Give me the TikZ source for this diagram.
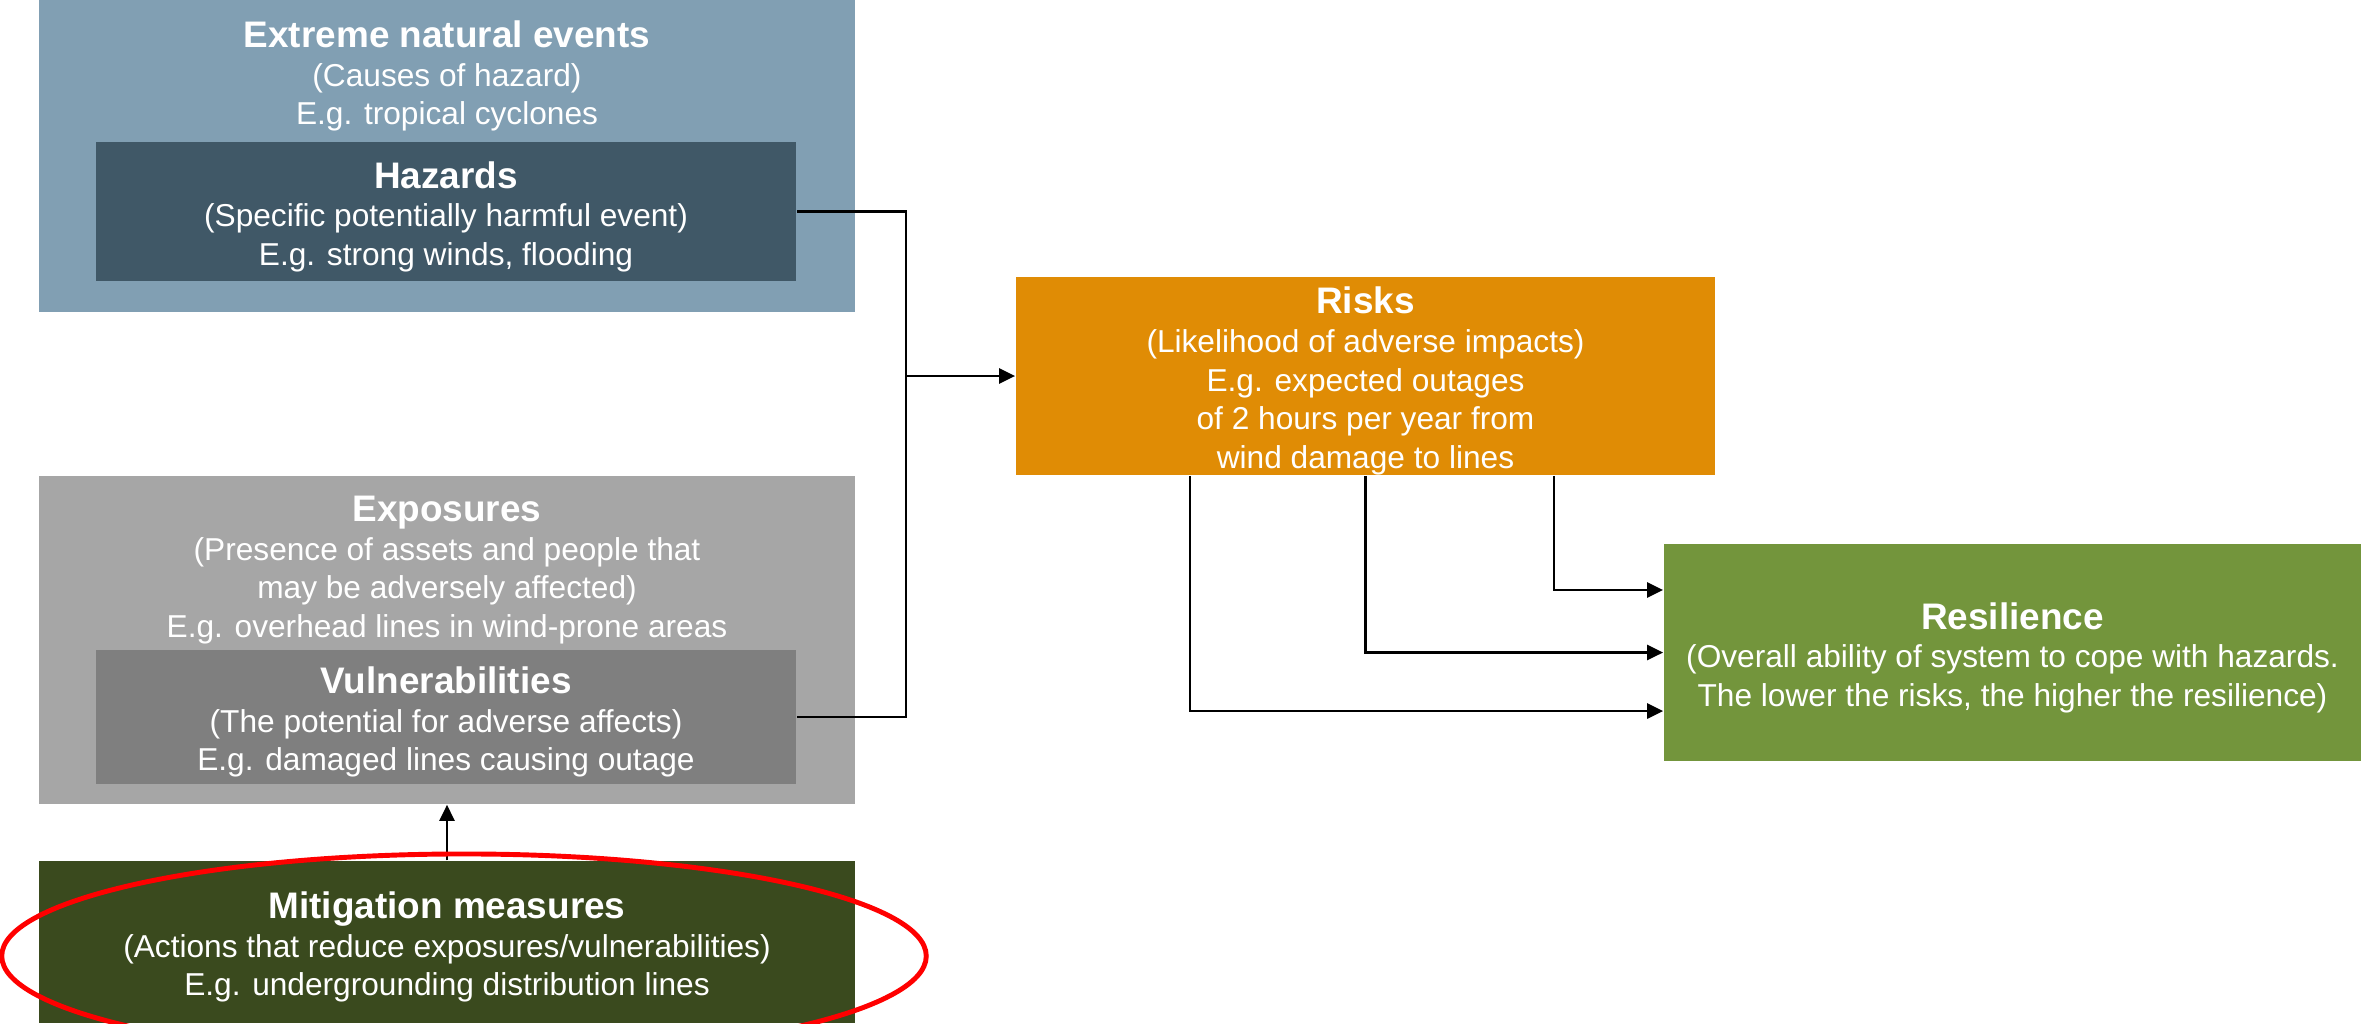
\documentclass[tikz,border=0pt]{standalone}
\usepackage{fontspec}
\setmainfont{Liberation Sans}
\usetikzlibrary{arrows.meta}
\definecolor{eventblue}{HTML}{819FB3}
\definecolor{hazardblue}{HTML}{405867}
\definecolor{exposegray}{HTML}{A6A6A6}
\definecolor{vulngray}{HTML}{7F7F7F}
\definecolor{mitigreen}{HTML}{3A4A1E}
\definecolor{riskorange}{HTML}{E08C05}
\definecolor{resigreen}{HTML}{73953C}
% box headings; the strut lowers the text block a little inside filled boxes
\newcommand{\boxhead}[1]{{\fontsize{10.5}{11}\selectfont\bfseries #1}}
\newcommand{\fillhead}[1]{{\fontsize{10.5}{11}\selectfont\bfseries\rule{0pt}{10.5pt}#1}}
\begin{document}
\begin{tikzpicture}[x=0.01cm, y=-0.01cm,
    >={Triangle[length=1.6mm,width=1.5mm]},
    box/.style={rectangle, inner sep=0pt, text=white, align=center, font=\fontsize{9}{11}\selectfont},
    widebox/.style={box, minimum width=8.16cm},
    innerbox/.style={box, minimum width=7.00cm},
    link/.style={line width=0.75pt}]
    \useasboundingbox (0,0) rectangle (2361,1023);
    \clip (0,0) rectangle (2361,1023);
    % Place nodes
    \node[widebox, fill=eventblue, minimum height=3.12cm] (ext) at (447,156) {};
    \node[box] (extlbl) at (447,76) {\boxhead{Extreme natural events}\\(Causes of hazard)\\E.g. tropical cyclones};
    \node[innerbox, fill=hazardblue, minimum height=1.39cm] (haz) at (446,211.5) {\fillhead{Hazards}\\(Specific potentially harmful event)\\E.g. strong winds, flooding};
    \node[widebox, fill=exposegray, minimum height=3.28cm] (expo) at (447,640) {};
    \node[box] (expolbl) at (447,570) {\boxhead{Exposures}\\(Presence of assets and people that\\may be adversely affected)\\E.g. overhead lines in wind-prone areas};
    \node[innerbox, fill=vulngray, minimum height=1.34cm] (vul) at (446,717) {\fillhead{Vulnerabilities}\\(The potential for adverse affects)\\E.g. damaged lines causing outage};
    \node[widebox, fill=mitigreen, minimum height=1.62cm] (miti) at (447,942) {\fillhead{Mitigation measures}\\(Actions that reduce exposures/vulnerabilities)\\E.g. undergrounding distribution lines};
    \node[box, fill=riskorange, minimum width=6.99cm, minimum height=1.98cm] (risks) at (1365.5,376) {\fillhead{Risks}\\(Likelihood of adverse impacts)\\E.g. expected outages\\of 2 hours per year from\\wind damage to lines};
    \node[box, fill=resigreen, minimum width=6.97cm, minimum height=2.17cm] (res) at (2012.5,652.5) {\fillhead{Resilience}\\(Overall ability of system to cope with hazards.\\The lower the risks, the higher the resilience)};
    \coordinate (join) at (906,376);
    % Create edges
    \draw[link] (haz.east) -| (join) |- (vul.east);
    \draw[link, ->] (join) -- (risks.west);
    \draw[link, ->] (miti.north) -- (expo.south);
    \draw[link, ->] ([xshift=-1.755cm]risks.south) |- ([yshift=-0.585cm]res.west);
    \draw[link, ->] (risks.south) |- (res.west);
    \draw[link, ->] ([xshift=1.885cm]risks.south) |- ([yshift=0.625cm]res.west);
    % Highlight
    \draw[red, line width=1.4pt] (464,956) ellipse [x radius=4.62cm, y radius=1.02cm];
\end{tikzpicture}
\end{document}
